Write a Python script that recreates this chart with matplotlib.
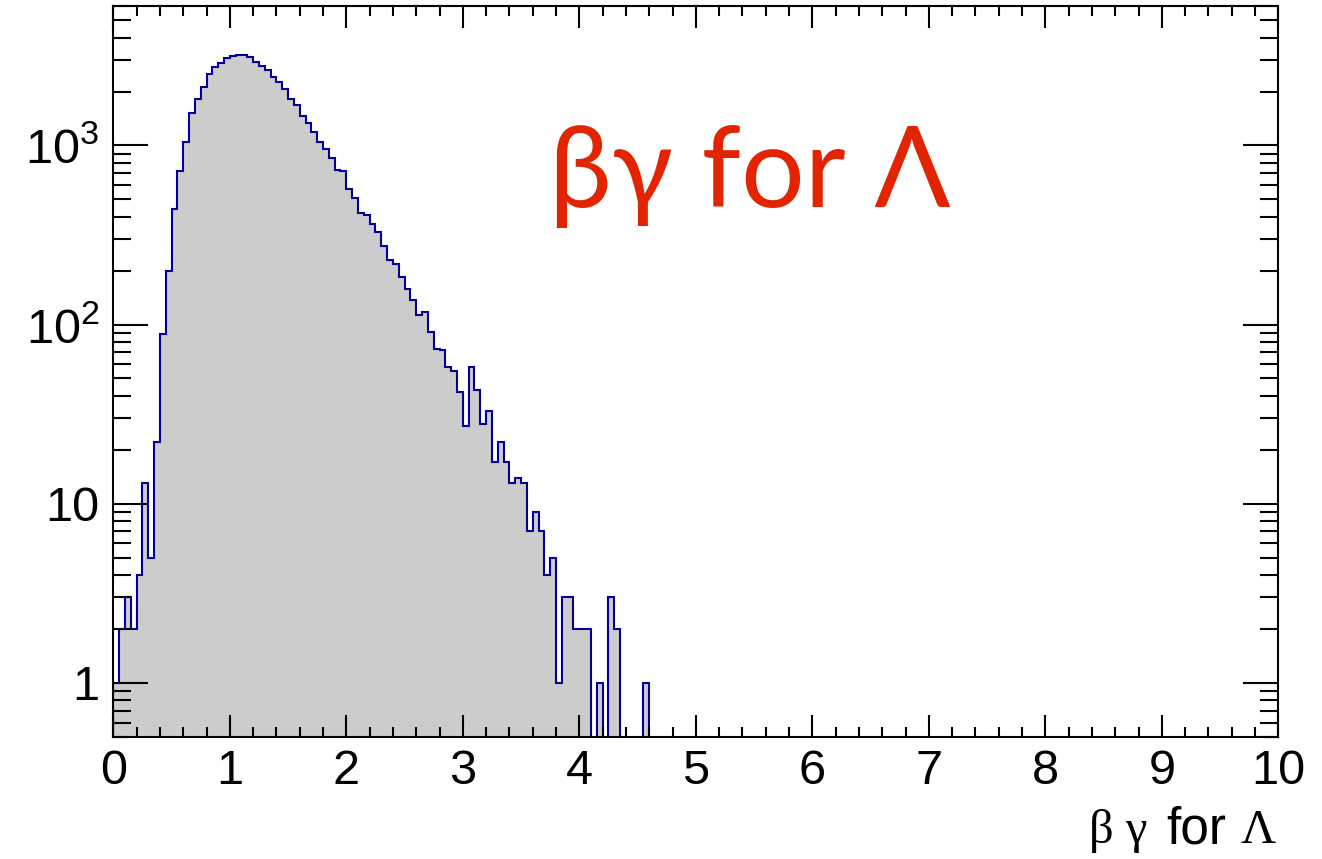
import numpy as np
import matplotlib
matplotlib.use("Agg")
import matplotlib.pyplot as plt
from matplotlib.ticker import FixedLocator, LogLocator, NullFormatter, FuncFormatter

# beta*gamma of Lambda candidates, 200 bins from 0 to 10 (only the first 92 are filled)
bin_lo = 0.0
bin_hi = 10.0
n_bins = 200
counts_filled = [
    1, 2, 3, 2, 4, 13, 5, 22, 89, 199,
    440, 720, 1052, 1510, 1815, 2118, 2513, 2746, 2893, 3073,
    3156, 3197, 3190, 3125, 2933, 2773, 2643, 2415, 2258, 2055,
    1807, 1673, 1459, 1328, 1187, 1052, 950, 846, 725, 720,
    568, 506, 417, 408, 362, 329, 273, 229, 219, 184,
    158, 137, 113, 117, 91, 73, 72, 58, 55, 42,
    27, 58, 43, 28, 33, 17, 22, 17, 13, 14,
    13, 7, 9, 7, 4, 5, 1, 3, 3, 2,
    2, 2, 0, 1, 0, 3, 2, 0, 0, 0,
    0, 1,
]
counts = np.zeros(n_bins)
counts[:len(counts_filled)] = counts_filled
edges = np.linspace(bin_lo, bin_hi, n_bins + 1)

title_text = "\u03b2\u03b3 for \u039b"

plt.rcParams["font.family"] = ["Liberation Sans", "DejaVu Sans"]
plt.rcParams["mathtext.fontset"] = "custom"
plt.rcParams["mathtext.rm"] = "Liberation Sans"
plt.rcParams["mathtext.it"] = "Liberation Sans:italic"

W, H = 1322, 859
fig = plt.figure(figsize=(W / 100, H / 100), dpi=100)
ax = fig.add_axes([113.3 / W, 1 - 736.7 / H, (1278.3 - 113.3) / W, (736.7 - 5.7) / H])

# empty bins pushed below the axis floor on the log scale
floor = 1e-3
shown = np.where(counts > 0, counts, floor)
ax.stairs(shown, edges, baseline=floor, fill=True, color="#cccccc", lw=0)
ax.stairs(shown, edges, baseline=floor, fill=False, color="#000099", lw=1.5)

ax.set_yscale("log")
ax.set_xlim(bin_lo, bin_hi)
ax.set_ylim(0.5, 6030)

ax.xaxis.set_major_locator(FixedLocator(np.arange(0, 11, 1)))
ax.xaxis.set_minor_locator(FixedLocator(np.arange(0, 10.01, 0.2)))
ax.yaxis.set_major_locator(LogLocator(base=10, numticks=10))
ax.yaxis.set_minor_locator(LogLocator(base=10, subs=np.arange(2, 10), numticks=10))
ax.yaxis.set_minor_formatter(NullFormatter())


def log_label(v, pos):
    e = int(round(np.log10(v)))
    if e == 0:
        return "1"
    if e == 1:
        return "10"
    return r"$\mathregular{10^{%d}}$" % e


ax.yaxis.set_major_formatter(FuncFormatter(log_label))

ax.tick_params(axis="both", which="both", direction="in", top=True, right=True,
               width=1.5, labelsize=35, colors="black")
ax.tick_params(axis="x", which="major", length=16, pad=9)
ax.tick_params(axis="x", which="minor", length=7.5)
ax.tick_params(axis="y", which="major", length=25, pad=10)
ax.tick_params(axis="y", which="minor", length=13)
for s in ax.spines.values():
    s.set_linewidth(1.5)

# axis title: symbol-font greek letters, sans "for"
fig.text(1276 / W, 1 - 843 / H, "\u039b", ha="right", va="baseline",
         fontsize=35, family=["Liberation Serif", "DejaVu Serif"])
fig.text(1226 / W, 1 - 843 / H, "for", ha="right", va="baseline", fontsize=37)
fig.text(1147 / W, 1 - 843 / H, "\u03b2 \u03b3", ha="right", va="baseline",
         fontsize=35, family=["Liberation Serif", "DejaVu Serif"])

# large in-frame annotation
fig.text(549 / W, 1 - 207 / H, title_text, ha="left", va="baseline",
         fontsize=81, color="#e32400", family=["Lato", "Open Sans", "DejaVu Sans"])

fig.savefig("out.png", dpi=100)
